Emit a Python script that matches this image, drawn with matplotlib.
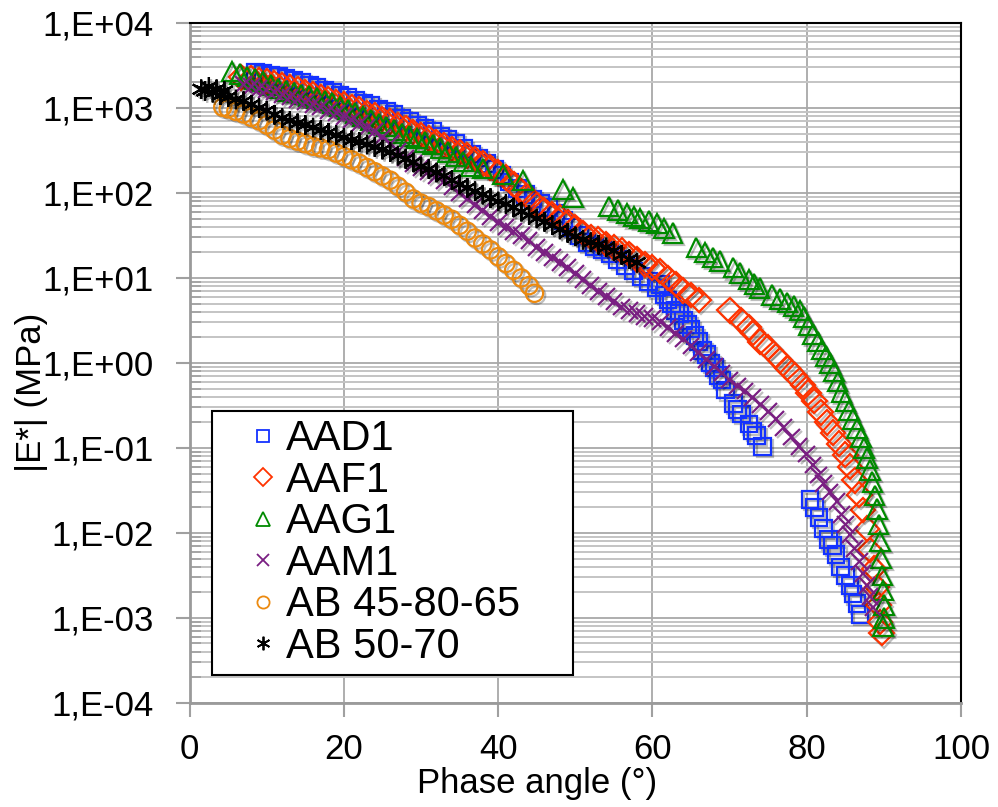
import numpy as np
import matplotlib
matplotlib.use("Agg")
import matplotlib.pyplot as plt
import matplotlib.patheffects as pe
from matplotlib.ticker import FixedLocator, FuncFormatter, NullFormatter

plt.rcParams['font.family'] = ['Liberation Sans', 'DejaVu Sans']

# Black space data: phase angle (deg) and log10 |E*| (MPa)
aad1_phase = [8.5, 9.5, 10.5, 11.5, 12.5, 13.5, 14.5, 15.5, 16.5, 17.5, 18.5, 19.5, 20.5, 21.5,
              22.5, 23.5, 24.5, 25.5, 26.5, 27.5, 28.5, 29.5, 30.5, 31.5, 32.5, 33.5, 34.5, 35.5,
              36.5, 37.5, 38.5, 39.5, 40.5, 41.5, 42.5, 43.5, 44.5, 45.5, 46.5, 47.5, 48.5, 49.5,
              50.5, 51.5, 52.5, 53.5, 54.5, 55.5, 56.5, 57.5, 58.5, 59.5, 60.5, 61.0, 61.5, 62.0,
              62.5, 63.0, 63.5, 64.0, 64.5, 65.0, 65.5, 66.0, 66.5, 67.0, 67.5, 68.0, 68.5, 69.0,
              69.5, 70.5, 71.0, 71.5, 72.5, 73.0, 73.5, 74.3,
              80.4, 81.0, 81.6, 82.2, 82.8, 83.3, 83.8, 84.4, 85.0, 85.6, 86.0, 86.5, 86.9]
aad1_logmod = [3.42, 3.41, 3.39, 3.37, 3.35, 3.32, 3.30, 3.27, 3.24, 3.21, 3.18, 3.15, 3.12, 3.09,
               3.06, 3.03, 2.99, 2.96, 2.92, 2.88, 2.84, 2.80, 2.76, 2.72, 2.67, 2.63, 2.58, 2.52,
               2.46, 2.41, 2.35, 2.28, 2.21, 2.13, 2.05, 1.98, 1.93, 1.88, 1.83, 1.76, 1.68, 1.59,
               1.50, 1.42, 1.37, 1.33, 1.29, 1.22, 1.15, 1.08, 1.02, 0.96, 0.88, 0.92, 0.80, 0.74,
               0.70, 0.62, 0.58, 0.50, 0.45, 0.40, 0.32, 0.25, 0.15, 0.10, 0.00, -0.05, -0.15, -0.20,
               -0.32, -0.48, -0.55, -0.60, -0.72, -0.80, -0.85, -0.98,
               -1.61, -1.70, -1.82, -1.95, -2.08, -2.15, -2.25, -2.40, -2.50, -2.62, -2.72, -2.83, -2.96]

aaf1_phase = [6.7, 8, 9, 10, 11, 12, 13, 14, 15, 16, 17, 18, 19, 20, 21, 22, 23, 24, 25, 26, 27, 28,
              29, 30, 31, 32, 33, 34, 35, 36, 37, 38, 39, 40, 41, 42, 43, 44, 45, 46, 47, 48, 49, 50,
              51, 52, 53, 54, 55, 56, 57, 58, 59, 60, 61, 62, 63, 64, 65, 66, 70, 71.5, 72.5, 73,
              74, 75, 76, 76.5, 77.5, 78.5, 79.5, 80.2, 81, 81.8, 82.6, 83.4, 84.2, 85, 85.6, 86.2,
              86.8, 87.3, 87.8, 88.2, 88.7, 89.1, 89.3, 89.5, 89.7]
aaf1_logmod = [3.36, 3.35, 3.33, 3.31, 3.29, 3.27, 3.24, 3.22, 3.19, 3.16, 3.13, 3.10, 3.07, 3.04,
               3.01, 2.98, 2.94, 2.91, 2.87, 2.84, 2.80, 2.76, 2.72, 2.68, 2.64, 2.60, 2.56, 2.52,
               2.48, 2.44, 2.40, 2.35, 2.30, 2.24, 2.18, 2.10, 2.02, 1.95, 1.86, 1.80, 1.75, 1.71,
               1.66, 1.60, 1.53, 1.48, 1.45, 1.40, 1.36, 1.32, 1.28, 1.22, 1.16, 1.12, 1.08, 1.00,
               0.93, 0.85, 0.80, 0.74, 0.62, 0.50, 0.42, 0.35, 0.25, 0.18, 0.08, 0.03, -0.06, -0.15,
               -0.26, -0.35, -0.45, -0.58, -0.70, -0.82, -0.95, -1.08, -1.22, -1.38, -1.55, -1.73,
               -1.95, -2.20, -2.42, -2.64, -2.85, -3.05, -3.18]

aag1_phase = [5.5, 6.5, 7.5, 8.5, 9.5, 10.5, 11.5, 12.5, 13.5, 14.5, 15.5, 16.5, 17.5, 18.5, 19.5,
              20.5, 21.5, 22.5, 23.5, 24.5, 25.5, 26.5, 27.5, 28.5, 29.5, 30.5, 31.5, 32.5, 33.5,
              34.5, 35.5, 36.5, 38.0, 40.6, 43.2, 48.4, 49.7, 54.3, 55.5, 56.7, 57.6, 58.4, 59.5,
              60.6, 61.5, 62.6, 65.7, 66.8, 67.8, 68.7, 70.5, 71.3, 72.5, 73.2, 73.9, 75.5, 76.5,
              77.5, 78.3, 79.1, 79.6, 80.2, 80.8, 81.4, 82.0, 82.5, 83.0, 83.5, 84.0, 84.5, 85.0,
              85.5, 86.0, 86.5, 87.0, 87.4, 87.8, 88.2, 88.5, 88.8, 89.1, 89.3, 89.5, 89.6, 89.8,
              89.9, 90.0, 90.0, 89.9]
aag1_logmod = [3.43, 3.40, 3.37, 3.34, 3.31, 3.27, 3.23, 3.20, 3.18, 3.16, 3.14, 3.12, 3.09, 3.06,
               3.02, 2.98, 2.94, 2.90, 2.86, 2.82, 2.78, 2.74, 2.70, 2.67, 2.64, 2.60, 2.57, 2.53,
               2.48, 2.43, 2.37, 2.31, 2.29, 2.22, 2.15, 2.04, 1.95, 1.84, 1.80, 1.76, 1.72, 1.70,
               1.67, 1.64, 1.58, 1.53, 1.36, 1.30, 1.24, 1.20, 1.12, 1.06, 0.98, 0.93, 0.88, 0.80,
               0.75, 0.71, 0.67, 0.62, 0.54, 0.44, 0.34, 0.25, 0.16, 0.08, 0.00, -0.10, -0.22, -0.34,
               -0.45, -0.56, -0.66, -0.77, -0.88, -1.00, -1.12, -1.26, -1.40, -1.56, -1.72, -1.90,
               -2.10, -2.30, -2.50, -2.68, -2.85, -3.00, -3.10]

aam1_phase = [7, 8, 9, 10, 11, 12, 13, 14, 15, 16, 17, 18, 19, 20, 21, 22, 23, 24, 25, 26, 27, 28,
              29, 30, 31, 32, 33, 34, 35, 36, 37, 38, 39, 40, 41, 42, 43, 44, 45, 46, 47, 48, 49, 50,
              51, 52, 53, 54, 55, 56, 57, 58, 59, 60, 61, 62, 63, 64, 65, 66, 67, 68, 69, 70, 71,
              72, 73, 74, 75, 76, 77, 78, 79, 80, 80.8, 81.5, 82.2, 83.0, 83.9, 84.5, 85.0, 85.6,
              86.2, 86.8, 87.3, 87.8, 88.2, 88.6]
aam1_logmod = [3.28, 3.25, 3.23, 3.21, 3.19, 3.16, 3.13, 3.10, 3.07, 3.04, 3.01, 2.97, 2.94, 2.90,
               2.86, 2.82, 2.77, 2.72, 2.66, 2.58, 2.49, 2.41, 2.35, 2.30, 2.25, 2.20, 2.14, 2.07,
               2.00, 1.93, 1.86, 1.79, 1.72, 1.65, 1.60, 1.55, 1.50, 1.44, 1.36, 1.30, 1.24, 1.18,
               1.12, 1.05, 0.98, 0.91, 0.84, 0.78, 0.72, 0.66, 0.62, 0.58, 0.55, 0.52, 0.48, 0.42,
               0.35, 0.28, 0.20, 0.12, 0.04, -0.04, -0.12, -0.20, -0.27, -0.33, -0.41, -0.49, -0.57,
               -0.66, -0.76, -0.87, -0.98, -1.07, -1.20, -1.32, -1.42, -1.52, -1.63, -1.78, -1.90,
               -2.02, -2.18, -2.34, -2.48, -2.62, -2.75, -2.88]

ab4580_phase = [4.3, 5, 6, 7, 8, 9, 10, 11, 12, 13, 14, 15, 16, 17, 18, 19, 20, 21, 22, 23, 24, 25,
                26, 27, 28, 29, 30, 31, 32, 33, 34, 35, 36, 37, 38, 39, 40, 41, 42, 43, 44, 44.7]
ab4580_logmod = [3.01, 2.99, 2.96, 2.93, 2.89, 2.85, 2.80, 2.74, 2.68, 2.64, 2.61, 2.58, 2.55, 2.53,
                 2.51, 2.47, 2.43, 2.39, 2.35, 2.30, 2.25, 2.20, 2.15, 2.08, 2.01, 1.93, 1.88, 1.84,
                 1.79, 1.74, 1.69, 1.62, 1.55, 1.47, 1.40, 1.33, 1.25, 1.17, 1.09, 1.00, 0.91, 0.82]

ab5070_phase = [1.5, 2.0, 2.5, 3.0, 3.5, 4.0, 4.5, 5, 6, 7, 8, 9, 10, 11, 12, 13, 14, 15, 16, 17, 18,
                19, 20, 21, 22, 23, 24, 25, 26, 27, 28, 29, 30, 31, 32, 33, 34, 35, 36, 37, 38, 39,
                40, 41, 42, 43, 44, 45, 46, 47, 48, 49, 50, 51, 52, 53, 54, 55, 56, 57, 58]
ab5070_logmod = [3.22, 3.20, 3.25, 3.18, 3.22, 3.15, 3.20, 3.13, 3.10, 3.08, 3.04, 3.00, 2.97, 2.92,
                 2.88, 2.85, 2.82, 2.80, 2.77, 2.74, 2.71, 2.68, 2.65, 2.62, 2.60, 2.57, 2.54, 2.51,
                 2.48, 2.44, 2.40, 2.36, 2.31, 2.28, 2.24, 2.20, 2.15, 2.10, 2.06, 2.02, 1.98, 1.94,
                 1.90, 1.87, 1.83, 1.78, 1.74, 1.70, 1.66, 1.62, 1.57, 1.53, 1.49, 1.45, 1.42, 1.39,
                 1.36, 1.32, 1.27, 1.22, 1.18]

# name, x, log y, marker, colour, marker size
series = [
    ("AAD1", aad1_phase, aad1_logmod, "s", "#1432ff", 12),
    ("AAF1", aaf1_phase, aaf1_logmod, "D", "#ff3300", 12.5),
    ("AAG1", aag1_phase, aag1_logmod, "^", "#008a00", 14),
    ("AAM1", aam1_phase, aam1_logmod, "x", "#7a1f82", 12),
    ("AB 45-80-65", ab4580_phase, ab4580_logmod, "o", "#ec8a10", 12.5),
    ("AB 50-70", ab5070_phase, ab5070_logmod, (6, 2, 0), "#000000", 14),
]

fig = plt.figure(figsize=(9.98, 8.07), dpi=100)
ax = fig.add_axes([0.190, 0.129, 0.773, 0.8425])

shadow = [pe.SimpleLineShadow(offset=(1.5, -1.5), shadow_color="k", alpha=0.25), pe.Normal()]

for name, ph, lm, mk, col, ms in series:
    ax.plot(ph, 10 ** np.array(lm), linestyle="none", marker=mk, ms=ms,
            mfc="none", mec=col, mew=1.6, label=name, path_effects=shadow)

ax.set_yscale("log")
ax.set_xlim(0, 100)
ax.set_ylim(1e-4, 1e4)
ax.set_xticks([0, 20, 40, 60, 80, 100])
ax.yaxis.set_major_locator(FixedLocator([10.0 ** k for k in range(-4, 5)]))
ax.yaxis.set_major_formatter(FuncFormatter(lambda v, p: "1,E%+03d" % int(round(np.log10(v)))))
ax.yaxis.set_minor_locator(FixedLocator([m * 10.0 ** k for k in range(-4, 4) for m in range(2, 10)]))
ax.yaxis.set_minor_formatter(NullFormatter())

ax.grid(True, which="major", axis="both", color="#a8a8a8", lw=1.3)
ax.grid(True, which="minor", axis="y", color="#c4c4c4", lw=1.4)
ax.set_axisbelow(True)

ax.tick_params(axis="both", which="major", labelsize=25, direction="out", length=10,
               width=1.5, color="#a0a0a0")
ax.tick_params(axis="y", which="major", pad=16)
ax.tick_params(axis="x", which="major", pad=12)
ax.tick_params(axis="y", which="minor", direction="in", length=8, width=1.2, color="#a0a0a0")

for s in ["left", "bottom"]:
    ax.spines[s].set_color("#9a9a9a")
    ax.spines[s].set_linewidth(2)
for s in ["top", "right"]:
    ax.spines[s].set_color("black")
    ax.spines[s].set_linewidth(1.5)

ax.set_xlabel("Phase angle (°)", fontsize=25, va="top")
ax.xaxis.set_label_coords(0.45, -0.094)
ax.set_ylabel("|E*| (MPa)", fontsize=25)
ax.yaxis.set_label_coords(-0.184, 0.457)

leg = ax.legend(loc="lower left", bbox_to_anchor=(0.0285, 0.041, 0.468, 0.1), mode="expand",
                borderaxespad=0, fontsize=30, markerscale=0.7, handletextpad=-0.46,
                labelspacing=0.035, handlelength=2.05, borderpad=0.2, fancybox=False,
                framealpha=1, edgecolor="black")
leg.get_frame().set_linewidth(1.5)
for h in leg.legend_handles:
    h.set_path_effects([])
    h.set_markeredgewidth(1.3)

fig.savefig("out.png", dpi=100)
